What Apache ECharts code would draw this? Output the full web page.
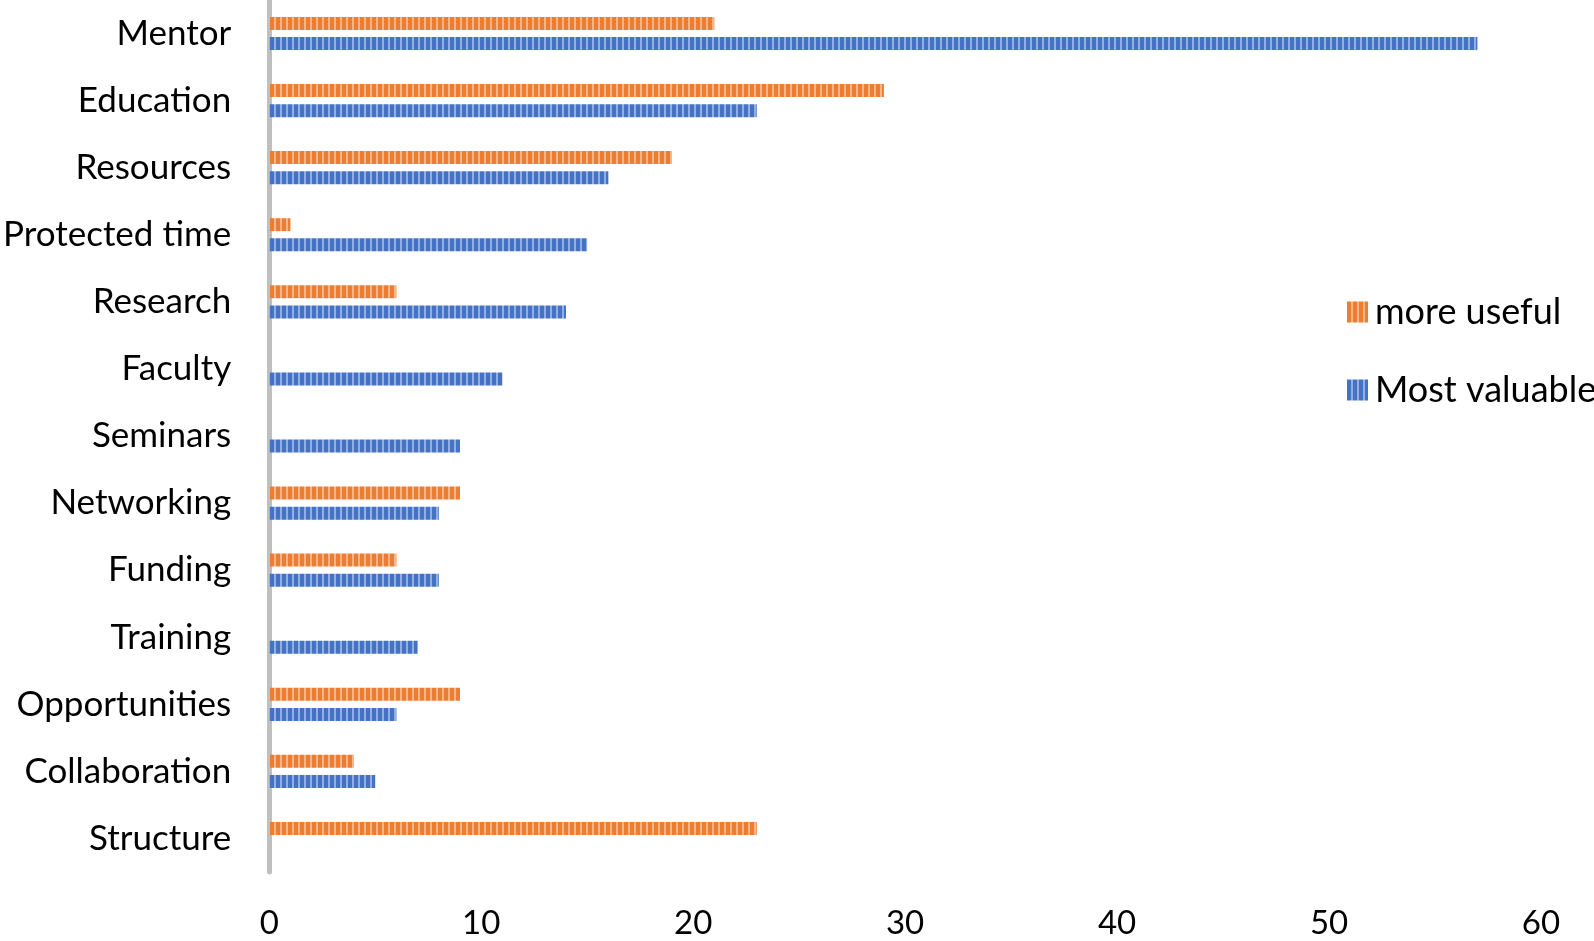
<!DOCTYPE html>
<html>
<head>
<meta charset="utf-8">
<script src="https://cdn.jsdelivr.net/npm/echarts@6/dist/echarts.min.js"></script>
<style>
  html, body { margin: 0; padding: 0; background: #fff; }
  #chart { width: 1594px; height: 941px; }
</style>
</head>
<body>
<div id="chart"></div>
<script>
const categories = ['Mentor', 'Education', 'Resources', 'Protected time', 'Research', 'Faculty',
  'Seminars', 'Networking', 'Funding', 'Training', 'Opportunities', 'Collaboration', 'Structure'];
const moreUseful = [21, 29, 19, 1, 6, 0, 0, 9, 6, 0, 9, 4, 23];
const mostValuable = [57, 23, 16, 15, 14, 11, 9, 8, 8, 7, 6, 5, 0];
const xTicks = [0, 10, 20, 30, 40, 50, 60];

// vertical stripe fill, like the Excel pattern
function stripes(dark, light) {
  const c = document.createElement('canvas');
  c.width = 6;
  c.height = 6;
  const ctx = c.getContext('2d');
  ctx.fillStyle = dark;
  ctx.fillRect(0, 0, 6, 6);
  ctx.fillStyle = light;
  ctx.fillRect(4, 0, 2, 6);
  return { image: c, repeat: 'repeat' };
}

const font = 'Lato, "Open Sans", sans-serif';
const chart = echarts.init(document.getElementById('chart'));

chart.setOption({
  animation: false,
  textStyle: { fontFamily: font },
  grid: { left: 267, right: 53, top: 0, bottom: 69, containLabel: false },
  legend: {
    orient: 'vertical',
    left: 1342,
    top: 289,
    itemWidth: 21,
    itemHeight: 21,
    itemGap: 42,
    icon: 'rect',
    textStyle: { fontSize: 36, color: '#000', fontFamily: font, padding: [0, 0, 0, 2] },
    data: ['more useful', 'Most valuable'],
  },
  xAxis: {
    type: 'value',
    min: 0,
    max: 60,
    interval: 10,
    axisLine: { show: false },
    axisTick: { show: false },
    splitLine: { show: false },
    axisLabel: {
      fontSize: 33,
      color: '#000',
      margin: 35,
      formatter(v) { return xTicks.includes(v) ? String(v) : ''; },
    },
  },
  yAxis: {
    type: 'category',
    inverse: true,
    data: categories,
    axisLine: { show: true, lineStyle: { color: '#BFBFBF', width: 5 } },
    axisTick: { show: false },
    axisLabel: { fontSize: 35, color: '#000', margin: 38 },
  },
  series: [
    {
      name: 'more useful',
      type: 'bar',
      data: moreUseful,
      barWidth: 13,
      barGap: '55%',
      itemStyle: { color: stripes('#ED7D31', '#F5B58A') },
    },
    {
      name: 'Most valuable',
      type: 'bar',
      data: mostValuable,
      barWidth: 13,
      barGap: '55%',
      itemStyle: { color: stripes('#4472C4', '#93AEE0') },
    },
  ],
});
</script>
</body>
</html>
